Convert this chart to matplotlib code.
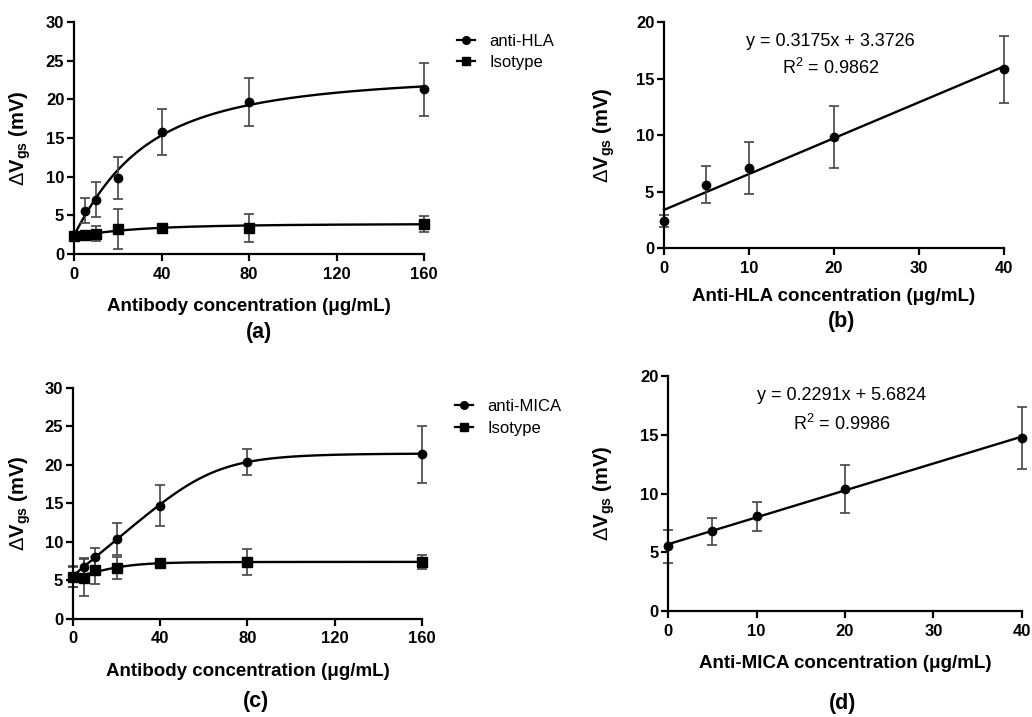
import numpy as np
import matplotlib
matplotlib.use('Agg')
import matplotlib.pyplot as plt
from matplotlib.lines import Line2D

plt.rcParams['font.family'] = ['Liberation Sans', 'DejaVu Sans']
plt.rcParams['mathtext.fontset'] = 'custom'
plt.rcParams['mathtext.rm'] = 'Liberation Sans'
plt.rcParams['mathtext.bf'] = 'Liberation Sans:bold'

# concentrations (ug/mL)
conc = [0, 5, 10, 20, 40, 80, 160]
conc_lin = [0, 5, 10, 20, 40]

# anti-HLA vs isotype
hla_mean = [2.4, 5.6, 7.05, 9.85, 15.8, 19.65, 21.3]
hla_err = [0.5, 1.65, 2.3, 2.75, 3.0, 3.1, 3.4]
hla_iso_mean = [2.3, 2.5, 2.65, 3.25, 3.4, 3.35, 3.9]
hla_iso_err = [0.3, 0.4, 0.95, 2.55, 0.35, 1.85, 1.05]

# anti-MICA vs isotype
mica_mean = [5.5, 6.8, 8.05, 10.4, 14.7, 20.4, 21.4]
mica_err = [1.4, 1.15, 1.2, 2.05, 2.65, 1.65, 3.7]
mica_iso_mean = [5.4, 5.35, 6.35, 6.6, 7.25, 7.4, 7.4]
mica_iso_err = [1.3, 2.4, 1.75, 1.4, 0.6, 1.75, 0.95]

# linear fits over 0-40 ug/mL
hla_slope, hla_icpt, hla_r2 = 0.3175, 3.3726, 0.9862
mica_slope, mica_icpt, mica_r2 = 0.2291, 5.6824, 0.9986


def saturation_fit(x, y, sd):
    # weighted least squares fit of baseline + amplitude * x / (k^n + x^n)^(1/n)
    x = np.asarray(x, float)
    y = np.asarray(y, float)
    w = 1 / np.asarray(sd, float)
    best = None
    for k in np.linspace(2, 150, 297):
        for n in np.linspace(0.8, 8, 73):
            f = x / (k ** n + x ** n) ** (1 / n)
            A = np.column_stack([np.ones_like(f), f])
            coef = np.linalg.lstsq(A * w[:, None], y * w, rcond=None)[0]
            sse = (((A @ coef - y) * w) ** 2).sum()
            if best is None or sse < best[0]:
                best = (sse, coef[0], coef[1], k, n)
    _, b, a, k, n = best
    return lambda xx: b + a * xx / (k ** n + xx ** n) ** (1 / n)


def style_axes(ax, xmax, xstep, ymax):
    for s in ['top', 'right']:
        ax.spines[s].set_visible(False)
    for s in ['left', 'bottom']:
        ax.spines[s].set_linewidth(1.6)
    ax.set_xlim(0, xmax)
    ax.set_ylim(0, ymax)
    ax.set_xticks(np.arange(0, xmax + 1, xstep))
    ax.set_yticks(np.arange(0, ymax + 1, 5))
    ax.tick_params(width=1.6, length=5, labelsize=12)
    ax.tick_params(axis='x', pad=4)
    ax.tick_params(axis='y', pad=2)
    for lab in ax.get_xticklabels() + ax.get_yticklabels():
        lab.set_fontweight('bold')


ylab = r'$\Delta\mathbf{V}_{\mathbf{gs}}$ (mV)'
err_kw = dict(ecolor='#444444', elinewidth=1.2, capsize=3.5, capthick=1.2, clip_on=False)

fig = plt.figure(figsize=(10.32, 7.17), dpi=100)

ax_a = fig.add_axes([0.0717, 0.6457, 0.3392, 0.3236])
ax_b = fig.add_axes([0.6434, 0.6541, 0.3295, 0.3152])
ax_c = fig.add_axes([0.0707, 0.1367, 0.3382, 0.3222])
ax_d = fig.add_axes([0.6473, 0.1478, 0.3430, 0.3278])

xx = np.linspace(0, 160, 400)
for ax, spec_m, spec_e, iso_m, iso_e, name, lx, ly in [
        (ax_a, hla_mean, hla_err, hla_iso_mean, hla_iso_err, 'anti-HLA', 0.4428, 0.9275),
        (ax_c, mica_mean, mica_err, mica_iso_mean, mica_iso_err, 'anti-MICA', 0.4409, 0.4177)]:
    ax.plot(xx, saturation_fit(conc, spec_m, spec_e)(xx), color='black', lw=1.7, clip_on=False)
    ax.plot(xx, saturation_fit(conc, iso_m, iso_e)(xx), color='black', lw=1.7, clip_on=False)
    ax.errorbar(conc, spec_m, yerr=spec_e, fmt='o', color='black', ms=6, **err_kw)
    ax.errorbar(conc, iso_m, yerr=iso_e, fmt='s', color='black', ms=6.5, **err_kw)
    style_axes(ax, 160, 40, 30)
    ax.set_xlabel('Antibody concentration (μg/mL)', fontsize=13.5, fontweight='bold')
    handles = [Line2D([], [], color='black', lw=1.6, marker='o', ms=5.5),
               Line2D([], [], color='black', lw=1.6, marker='s', ms=6)]
    fig.legend(handles, [name, 'Isotype'], loc='center left', bbox_to_anchor=(lx, ly),
               frameon=False, fontsize=12, handlelength=1.1, handletextpad=0.85,
               labelspacing=0.4, borderpad=0, borderaxespad=0)

xl = np.array([0, 40])
for ax, m, e, slope, icpt, r2, name in [
        (ax_b, hla_mean[:5], hla_err[:5], hla_slope, hla_icpt, hla_r2, 'Anti-HLA'),
        (ax_d, mica_mean[:5], mica_err[:5], mica_slope, mica_icpt, mica_r2, 'Anti-MICA')]:
    ax.plot(xl, slope * xl + icpt, color='black', lw=1.7, clip_on=False)
    ax.errorbar(conc_lin, m, yerr=e, fmt='o', color='black', ms=6, **err_kw)
    style_axes(ax, 40, 10, 20)
    ax.set_xlabel(name + ' concentration (μg/mL)', fontsize=13.5, fontweight='bold')
    ax.text(19.6, 18.3, f'y = {slope:.4f}x + {icpt:.4f}', ha='center', va='center', fontsize=13)
    ax.text(19.6, 15.9, f'R$^2$ = {r2:.4f}', ha='center', va='center', fontsize=13)

label_pos = {ax_a: (-0.117, -0.19), ax_b: (-0.138, -0.177),
             ax_c: (-0.115, -0.19), ax_d: (-0.144, -0.187)}
for ax, (yx, xy) in label_pos.items():
    ax.set_ylabel(ylab, fontsize=14.5, fontweight='bold')
    ax.yaxis.set_label_coords(yx, 0.5)
    ax.xaxis.set_label_coords(0.5, xy)

for txt, x, y in [('(a)', 259, 333), ('(b)', 842, 321), ('(c)', 256, 701), ('(d)', 843, 703)]:
    fig.text(x / 1032, 1 - y / 717, txt, ha='center', va='center', fontsize=15.5, fontweight='bold')

fig.savefig('out.png', dpi=100)
